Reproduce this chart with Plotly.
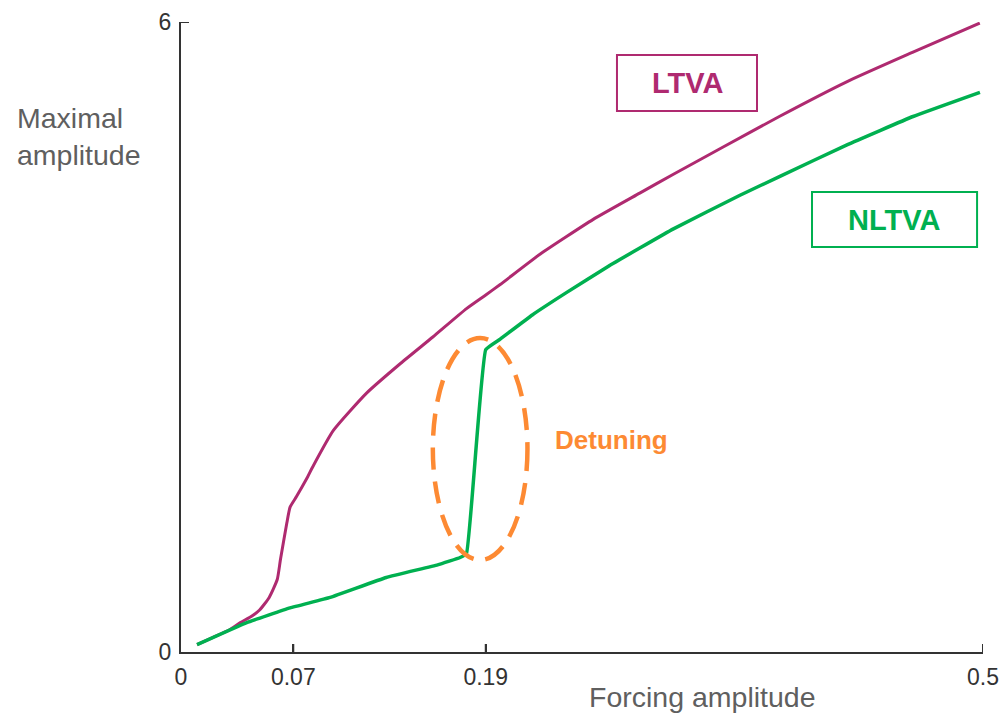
import plotly.graph_objects as go

# Response curves: maximal amplitude versus forcing amplitude
ltva_x = [0.010, 0.020, 0.030, 0.037, 0.044, 0.049, 0.055, 0.060, 0.062, 0.066,
          0.068, 0.072, 0.079, 0.082, 0.095, 0.116, 0.137, 0.157, 0.178, 0.190,
          0.199, 0.224, 0.257, 0.286, 0.307, 0.338, 0.373, 0.415, 0.456, 0.498]
ltva_y = [0.07, 0.14, 0.21, 0.28, 0.34, 0.40, 0.52, 0.69, 0.88, 1.23,
          1.38, 1.48, 1.67, 1.76, 2.11, 2.47, 2.75, 3.00, 3.27, 3.40,
          3.50, 3.79, 4.12, 4.37, 4.55, 4.81, 5.10, 5.43, 5.71, 5.99]

nltva_x = [0.010, 0.041, 0.068, 0.093, 0.128, 0.160, 0.174, 0.178, 0.190, 0.199,
           0.219, 0.240, 0.266, 0.307, 0.3485, 0.3734, 0.4152, 0.4564, 0.4981]
nltva_y = [0.07, 0.28, 0.42, 0.52, 0.71, 0.83, 0.90, 0.94, 2.88, 2.98,
           3.21, 3.42, 3.67, 4.03, 4.35, 4.53, 4.83, 5.10, 5.33]

x_ticks = [0, 0.07, 0.19, 0.5]
x_tick_text = ["0", "0.07", "0.19", "0.5"]
y_ticks = [0, 6]
y_tick_text = ["0", "6"]

MAGENTA = "#AF2A70"
GREEN = "#00B050"
ORANGE = "#FD8A33"
AXIS = "#333333"
GREY_TEXT = "#5F5F5F"
TICK_LEN = 8

fig = go.Figure()
fig.add_trace(go.Scatter(x=ltva_x, y=ltva_y, mode="lines",
                         line=dict(color=MAGENTA, width=3, shape="spline", smoothing=0.5),
                         name="LTVA"))
fig.add_trace(go.Scatter(x=nltva_x, y=nltva_y, mode="lines",
                         line=dict(color=GREEN, width=3.5, shape="spline", smoothing=0.3),
                         name="NLTVA"))

# Inward tick marks drawn at the tick values (pixel-length stubs)
for v in x_ticks[1:]:
    fig.add_shape(type="line", xref="x", yref="y", ysizemode="pixel", yanchor=0,
                  x0=v, x1=v, y0=0, y1=TICK_LEN,
                  line=dict(color=AXIS, width=2))
for v in y_ticks[1:]:
    fig.add_shape(type="line", xref="x", yref="y", xsizemode="pixel", xanchor=0,
                  x0=0, x1=TICK_LEN, y0=v, y1=v,
                  line=dict(color=AXIS, width=2))

# Dashed ellipse around the jump of the NLTVA curve
fig.add_shape(type="circle", xref="x", yref="y",
              x0=0.157, x1=0.216, y0=0.876, y1=2.99,
              line=dict(color=ORANGE, width=4.5, dash="22px,12px"))

# Labelled boxes for each curve
fig.add_shape(type="rect", xref="x", yref="y",
              x0=0.2718, x1=0.3591, y0=5.152, y1=5.686,
              line=dict(color=MAGENTA, width=2))
fig.add_shape(type="rect", xref="x", yref="y",
              x0=0.3934, x1=0.4963, y0=3.857, y1=4.381,
              line=dict(color=GREEN, width=2))

label_font = "Liberation Sans, Arial, sans-serif"
fig.add_annotation(x=0.3155, y=5.419, xref="x", yref="y", text="<b>LTVA</b>",
                   showarrow=False, font=dict(family=label_font, size=29, color=MAGENTA))
fig.add_annotation(x=0.4448, y=4.119, xref="x", yref="y", text="<b>NLTVA</b>",
                   showarrow=False, font=dict(family=label_font, size=29, color=GREEN))
fig.add_annotation(x=0.2681, y=2.019, xref="x", yref="y", text="<b>Detuning</b>",
                   showarrow=False, font=dict(family=label_font, size=26, color=ORANGE))

# Axis titles
fig.add_annotation(x=-0.2070, y=0.819, xref="paper", yref="paper",
                   text="Maximal<br>amplitude", showarrow=False, align="left",
                   xanchor="left", yanchor="middle",
                   font=dict(family=label_font, size=28.5, color=GREY_TEXT))
fig.add_annotation(x=0.650, y=-0.0714, xref="paper", yref="paper",
                   text="Forcing amplitude", showarrow=False,
                   xanchor="center", yanchor="middle",
                   font=dict(family=label_font, size=28.5, color=GREY_TEXT))

tick_font = dict(family=label_font, size=23, color=AXIS)
fig.update_xaxes(range=[0, 0.5], tickvals=x_ticks, ticktext=x_tick_text,
                 showline=True, linecolor=AXIS, linewidth=2, mirror=False,
                 ticks="inside", ticklen=TICK_LEN, tickwidth=2, tickcolor=AXIS,
                 showgrid=False, zeroline=False, tickfont=tick_font,
                 ticklabelstandoff=3, automargin=False)
fig.update_yaxes(range=[0, 6], tickvals=y_ticks, ticktext=y_tick_text,
                 showline=True, linecolor=AXIS, linewidth=2, mirror=False,
                 ticks="inside", ticklen=TICK_LEN, tickwidth=2, tickcolor=AXIS,
                 showgrid=False, zeroline=False, tickfont=tick_font,
                 ticklabelstandoff=3, automargin=False)

fig.update_layout(width=1002, height=715,
                  margin=dict(l=181, r=19, t=22, b=63, autoexpand=False),
                  paper_bgcolor="white", plot_bgcolor="white",
                  showlegend=False)

fig.write_html("out.html")
